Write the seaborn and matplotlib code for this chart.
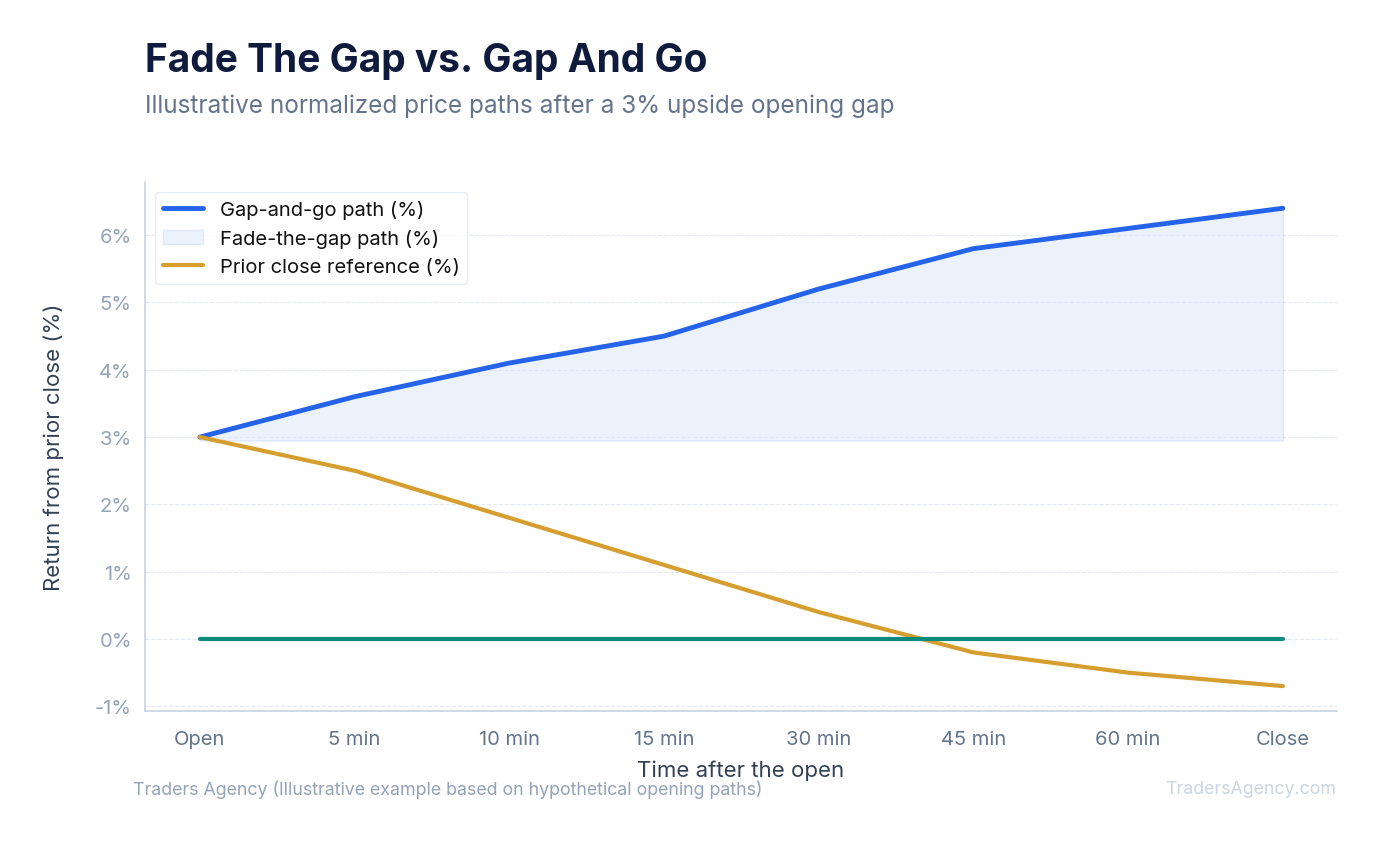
import numpy as np
import pandas as pd
import matplotlib
matplotlib.use("Agg")
import matplotlib.pyplot as plt
import seaborn as sns

times = ["Open", "5 min", "10 min", "15 min", "30 min", "45 min", "60 min", "Close"]
gap_and_go = [3.0, 3.6, 4.1, 4.5, 5.2, 5.8, 6.1, 6.4]
fade_the_gap = [3.0, 2.5, 1.8, 1.1, 0.4, -0.2, -0.5, -0.7]
prior_close = [0, 0, 0, 0, 0, 0, 0, 0]

sns.set_theme(style="white")
plt.rcParams["font.family"] = ["Inter", "DejaVu Sans"]

df = pd.DataFrame({"x": np.arange(len(times)), "go": gap_and_go,
                   "fade": fade_the_gap, "ref": prior_close})

fig = plt.figure(figsize=(13.81, 8.45), dpi=100)
ax = fig.add_axes([145 / 1381, 1 - 712 / 845, (1337 - 145) / 1381, (712 - 183) / 845])

ax.fill_between(df["x"], 2.95, df["go"], color="#dbe6fb", alpha=0.5,
                edgecolor="#c9d8f8", label="Fade-the-gap path (%)")
sns.lineplot(data=df, x="x", y="go", ax=ax, color="#2563eb", lw=3.5, label="Gap-and-go path (%)")
sns.lineplot(data=df, x="x", y="fade", ax=ax, color="#d69e2e", lw=3, label="Prior close reference (%)")
sns.lineplot(data=df, x="x", y="ref", ax=ax, color="#0d8a7e", lw=3, legend=False)

ax.set_xlim(-0.355, 7.35)
ax.set_ylim(-1.07, 6.79)
ax.set_xticks(df["x"])
ax.set_xticklabels(times)
ax.set_yticks(range(-1, 7))
ax.set_yticklabels([f"{v}%" for v in range(-1, 7)])
ax.tick_params(axis="x", colors="#64748b", labelsize=14.5, pad=8)
ax.tick_params(axis="y", colors="#94a3b8", labelsize=14.5)
ax.grid(axis="y", color="#e2e8f0", ls="--", lw=0.8)
for s in ["top", "right"]:
    ax.spines[s].set_visible(False)
for s in ["left", "bottom"]:
    ax.spines[s].set_color("#cbd5e1")
ax.set_xlabel("Time after the open", fontsize=16, color="#334155", labelpad=8)
ax.set_ylabel("Return from prior close (%)", fontsize=16, color="#334155", labelpad=22)

h, l = ax.get_legend_handles_labels()
order = [l.index("Gap-and-go path (%)"), l.index("Fade-the-gap path (%)"), l.index("Prior close reference (%)")]
ax.legend([h[i] for i in order], [l[i] for i in order], loc="upper left",
          fontsize=14.5, frameon=True, edgecolor="#e2e8f0", labelcolor="#111111",
          bbox_to_anchor=(0.0, 1.0))

fig.text(145 / 1381, 1 - 62 / 845, "Fade The Gap vs. Gap And Go", fontsize=28,
         fontweight="bold", color="#0f1b3d", va="center")
fig.text(145 / 1381, 1 - 106 / 845, "Illustrative normalized price paths after a 3% upside opening gap",
         fontsize=17.5, color="#64748b", va="center")
fig.text(133 / 1381, 1 - 790 / 845, "Traders Agency (Illustrative example based on hypothetical opening paths)",
         fontsize=12.8, color="#94a3b8", va="center")
fig.text(1336 / 1381, 1 - 790 / 845, "TradersAgency.com", fontsize=12.8,
         color="#cbd5e1", va="center", ha="right")

fig.savefig("out.png", dpi=100)
